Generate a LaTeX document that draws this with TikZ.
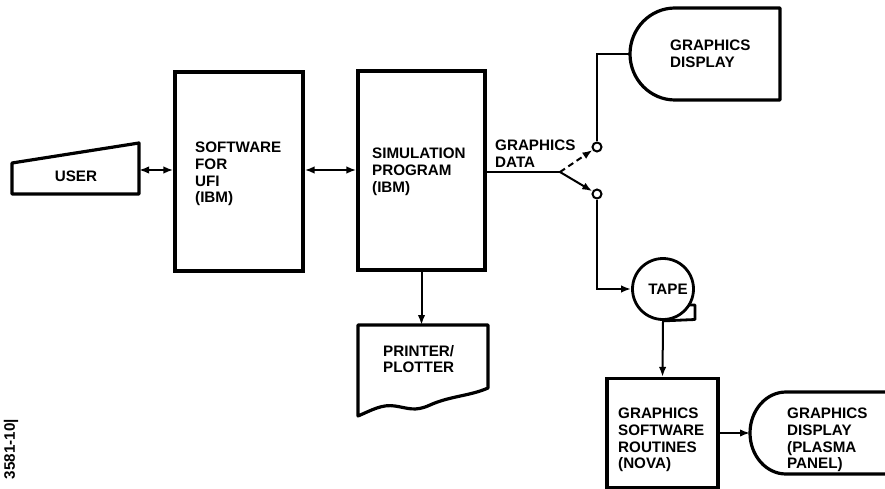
\documentclass[tikz,border=0pt]{standalone}
\usepackage{fontspec}
\setmainfont{Liberation Sans}
\usetikzlibrary{arrows.meta, calc}

\begin{document}
\begin{tikzpicture}[x=1pt, y=-1pt,
  every node/.style={font=\fontsize{15.2}{16.7}\selectfont\bfseries},
  box/.style={draw, line width=3.2pt, inner sep=0},
  outline/.style={line width=3.2pt, line join=round},
  lbl/.style={anchor=north west, inner sep=0, align=left},
  wire/.style={line width=2pt},
  arr/.style={wire, -{Latex[length=10pt,width=7.5pt]}},
  contact/.style={draw, circle, wire, fill=white, minimum size=9pt, inner sep=0}]
\useasboundingbox (0,0) rectangle (885,489);
% User terminal (manual input)
\draw[outline] (12,163) -- (139,143) -- (139,194) -- (12,194) -- cycle;
\node (user) at (76,176) {USER};
\coordinate (userE) at (139,170);
% Processing boxes
\node[box, minimum width=128pt, minimum height=199pt] (soft) at (239,171.5) {};
\node[lbl] (softtxt) at (195,142) {SOFTWARE\\FOR\\UFI\\(IBM)};
\node[box, minimum width=127pt, minimum height=199pt] (sim) at (421.5,170.5) {};
\node[lbl] (simtxt) at (372,148) {SIMULATION\\PROGRAM\\(IBM)};
\draw[wire, {Latex[length=10pt,width=7.5pt]}-{Latex[length=10pt,width=7.5pt]}] (userE) -- (userE -| soft.west);
\draw[wire, {Latex[length=10pt,width=7.5pt]}-{Latex[length=10pt,width=7.5pt]}] (soft.east |- 0,170) -- (sim.west |- 0,170);
% Printer / plotter (document symbol)
\draw[outline] (358,325) -- (488,325) -- (488,388)
  .. controls (470,396) and (450,396) .. (430,405)
  .. controls (415,412) and (408,408) .. (395,406)
  .. controls (382,404) and (372,410) .. (358,416) -- cycle;
\coordinate (prnN) at (421.5,325);
\node[lbl] (prntxt) at (383,345) {PRINTER/\\PLOTTER};
\draw[arr] (sim.south) -- (prnN);
% Graphics data switch
\coordinate (junc) at (560,172);
\node[contact] (c1) at (597,147) {};
\node[contact] (c2) at (597,194) {};
\node[lbl] (datatxt) at (495,140) {GRAPHICS\\DATA};
\draw[wire] (sim.east |- junc) -- (junc);
\draw[arr, dash pattern=on 6pt off 4pt] (junc) -- (c1);
\draw[arr] (junc) -- (c2);
% Graphics display (top)
\coordinate (disp1W) at (630,54);
\draw[outline] (675,100) arc[start angle=90, end angle=270, x radius=45, y radius=46]
  -- (780,8) -- (780,100) -- cycle;
\node[lbl] (disp1txt) at (670,40) {GRAPHICS\\DISPLAY};
\draw[wire] (c1.north) |- (disp1W);
% Tape
\node[draw, circle, line width=2.8pt, minimum size=61pt, inner sep=0] (tape) at (663,289) {\hspace{10pt}TAPE};
\draw[line width=2.8pt, line join=round] (tape.south) -- (695,319.5) -- (695,305) -- (688,305);
\draw[arr] (c2.south) |- (tape.west);
% Graphics software (NOVA)
\node[box, minimum width=111pt, minimum height=109pt] (gsw) at (662.5,433) {};
\node[lbl] (gswtxt) at (618,408) {GRAPHICS\\SOFTWARE\\ROUTINES\\(NOVA)};
\draw[arr] (tape.south) -- (gsw.north);
% Graphics display (plasma panel)
\coordinate (disp2W) at (750,433);
\draw[outline] (892,392) -- (786,392) arc[start angle=270, end angle=90, x radius=36, y radius=41]
  -- (892,474);
\node[lbl] (disp2txt) at (787,408) {GRAPHICS\\DISPLAY\\(PLASMA\\PANEL)};
\draw[arr] (gsw.east) -- (disp2W);
% Figure number
\node[rotate=90, inner sep=0] (fignum) at (11,449) {3581-10|};
\end{tikzpicture}
\end{document}
